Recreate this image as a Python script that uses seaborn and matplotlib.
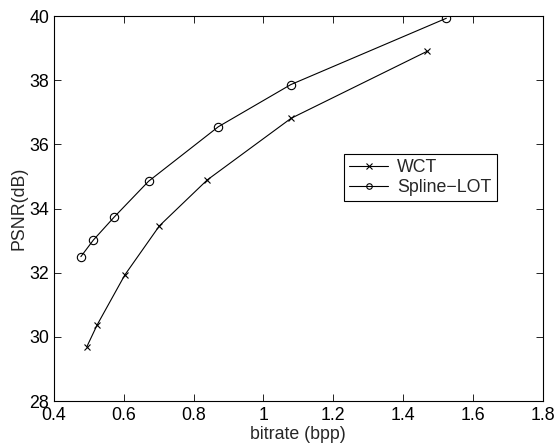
import matplotlib
matplotlib.use("Agg")
import matplotlib.pyplot as plt
import seaborn as sns
import pandas as pd

wct_x = [0.494, 0.524, 0.603, 0.702, 0.839, 1.079, 1.469]
wct_y = [29.69, 30.38, 31.93, 33.46, 34.89, 36.81, 38.90]
lot_x = [0.477, 0.513, 0.573, 0.671, 0.871, 1.078, 1.524]
lot_y = [32.50, 33.02, 33.74, 34.85, 36.55, 37.86, 39.93]
series_names = ["WCT", "Spline\u2212LOT"]
x_ticks = [0.4, 0.6, 0.8, 1.0, 1.2, 1.4, 1.6, 1.8]
x_ticklabels = ["0.4", "0.6", "0.8", "1", "1.2", "1.4", "1.6", "1.8"]
y_ticks = [28, 30, 32, 34, 36, 38, 40]

df_wct = pd.DataFrame({"bitrate": wct_x, "psnr": wct_y})
df_lot = pd.DataFrame({"bitrate": lot_x, "psnr": lot_y})

FS = 12.8
sns.set_style("ticks")
plt.rcParams["font.family"] = ["Liberation Sans", "DejaVu Sans"]
plt.rcParams["font.size"] = FS

fig = plt.figure(figsize=(5.56, 4.45), dpi=100)
ax = fig.add_axes([54/556, 44/445, (542.7-54)/556, (401-16)/445])

sns.lineplot(data=df_wct, x="bitrate", y="psnr", marker="x", color="black",
             sort=False, estimator=None, ax=ax, linewidth=0.8, label=series_names[0],
             markersize=4, markeredgecolor="black", markeredgewidth=0.8)
sns.lineplot(data=df_lot, x="bitrate", y="psnr", marker="o", color="black",
             sort=False, estimator=None, ax=ax, linewidth=0.8, label=series_names[1],
             markersize=6, markerfacecolor="none", markeredgecolor="black",
             markeredgewidth=0.8)

ax.set_xlim(0.4, 1.8)
ax.set_ylim(28, 40)
ax.set_xticks(x_ticks)
ax.set_xticklabels(x_ticklabels)
ax.set_yticks(y_ticks)
ax.set_xlabel("bitrate (bpp)", fontsize=FS, labelpad=1.5)
ax.set_ylabel("PSNR(dB)", fontsize=FS, labelpad=1)
ax.tick_params(direction="in", length=5, width=0.6, top=True, right=True,
               labelsize=FS, pad=3.5, colors="black")
ax.tick_params(axis="x", pad=4)
for s in ax.spines.values():
    s.set_visible(True)
    s.set_linewidth(0.8)
    s.set_color("black")

leg = ax.legend(loc="upper left", bbox_to_anchor=(0.593, 0.6416), borderaxespad=0,
                frameon=True, fancybox=False, edgecolor="black", framealpha=1,
                fontsize=FS, handlelength=2.2, borderpad=0.3, labelspacing=0.15,
                handletextpad=0.5)
leg.get_frame().set_linewidth(0.8)
for h in leg.legend_handles:
    h.set_markerfacecolor("none")
    h.set_markeredgecolor("black")
    h.set_markersize(4)
    h.set_linewidth(0.8)

fig.savefig("out.png", dpi=100)
